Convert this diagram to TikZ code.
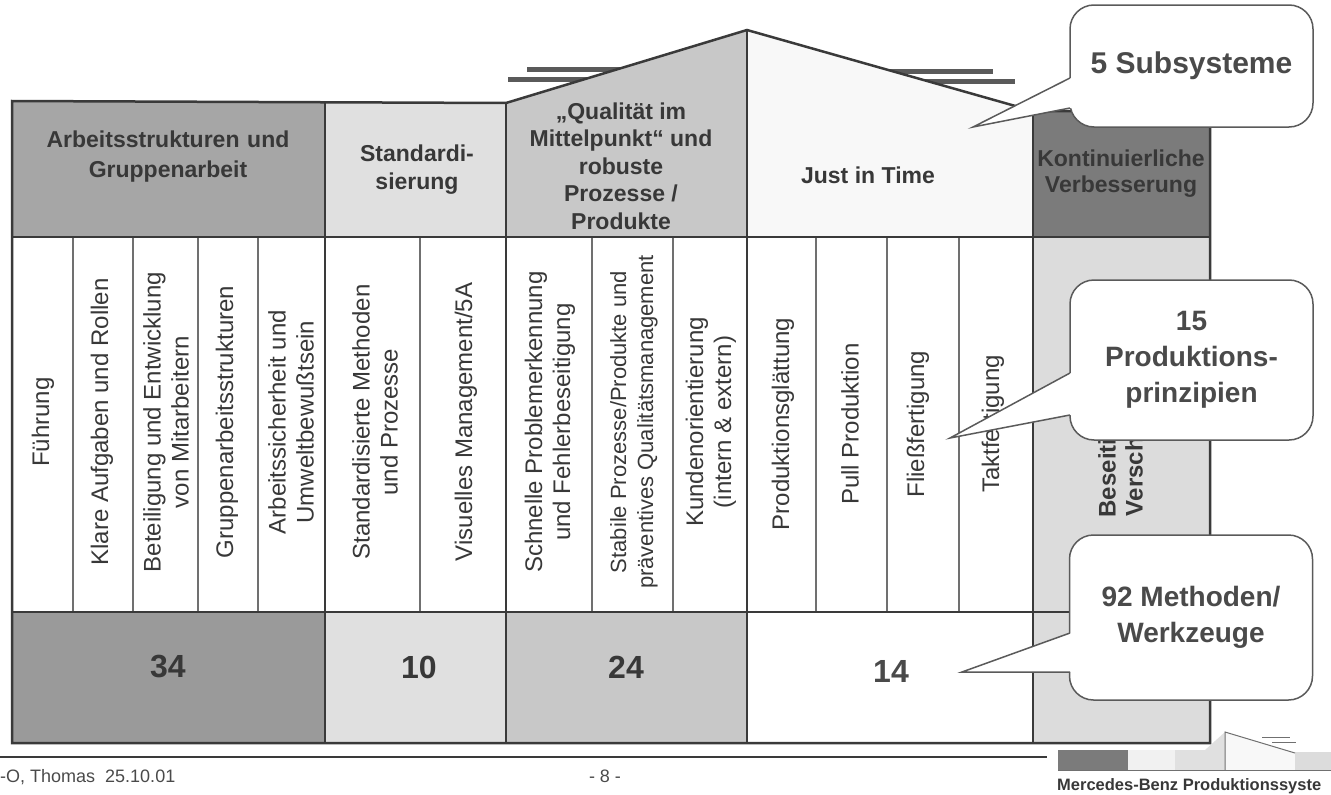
\documentclass[tikz,border=0pt]{standalone}
\usepackage{fontspec}
\setmainfont{Liberation Sans}
\usetikzlibrary{calc}

\definecolor{hdrOne}{HTML}{A6A6A6}
\definecolor{botOne}{HTML}{9A9A9A}
\definecolor{lightFill}{HTML}{E0E0E0}
\definecolor{midFill}{HTML}{C8C8C8}
\definecolor{jitFill}{HTML}{F8F8F8}
\definecolor{kvpFill}{HTML}{7B7B7B}
\definecolor{colFive}{HTML}{DCDCDC}
\definecolor{lineGray}{HTML}{3A3A3A}
\definecolor{divGray}{HTML}{707070}
\definecolor{textGray}{HTML}{383838}
\definecolor{bubbleLine}{HTML}{5A5A5A}
\definecolor{bubbleText}{HTML}{4A4A4A}

\begin{document}
\begin{tikzpicture}[x=1pt, y=-1pt,
    headStyle/.style={align=center, text=textGray, font=\bfseries\fontsize{23}{28}\selectfont},
    pillarStyle/.style={rotate=90, align=center, text=textGray, font=\fontsize{24}{28}\selectfont},
    countStyle/.style={text=textGray, font=\bfseries\fontsize{32}{36}\selectfont},
    bubbleStyle/.style={draw=bubbleLine, fill=white, line width=1.5pt, rounded corners=24pt,
        minimum width=243pt, align=center, inner sep=0pt, text=bubbleText,
        font=\bfseries\fontsize{28}{36}\selectfont},
    tailStyle/.style={draw=bubbleLine, line width=1.5pt},
    thickLine/.style={draw=lineGray, line width=2.5pt},
    thinLine/.style={draw=divGray, line width=1.2pt},
    eaveStyle/.style={draw=bubbleLine, line width=5pt},
    footStyle/.style={text=bubbleText, font=\fontsize{18}{20}\selectfont}]
\useasboundingbox (0,0) rectangle (1331,795);

% eaves behind the roof
\draw[eaveStyle] (527,69) -- (640,69);
\draw[eaveStyle] (508,79) -- (600,79);
\draw[eaveStyle] (875,71) -- (993,71);
\draw[eaveStyle] (905,81) -- (1015,81);

% header row
\fill[hdrOne] (12,101) rectangle (325,237);
\fill[lightFill] (325,102) rectangle (506,237);
\fill[midFill] (506,237) -- (506,103) -- (747,30) -- (747,237) -- cycle;
\fill[jitFill] (747,237) -- (747,30) -- (1033,111) -- (1033,237) -- cycle;
\fill[kvpFill] (1033,111) rectangle (1210,237);

% pillars and base row
\fill[white] (12,237) rectangle (1033,612);
\fill[colFive] (1033,237) rectangle (1210,743);
\fill[botOne] (12,612) rectangle (325,743);
\fill[lightFill] (325,612) rectangle (506,743);
\fill[midFill] (506,612) rectangle (747,743);
\fill[white] (747,612) rectangle (1033,743);

\foreach \xd in {73,133,198,258,420,592,673,816,887,959}
    \draw[thinLine] (\xd,237) -- (\xd,612);

% frame
\draw[thickLine] (12,743) -- (12,101) -- (506,103) -- (747,30) -- (1033,111)
    -- (1210,111) -- (1210,743) -- cycle;
\foreach \xg in {325,506}
    \draw[thickLine] (\xg,102) -- (\xg,743);
\draw[thickLine] (747,30) -- (747,743);
\draw[thickLine] (1033,111) -- (1033,743);
\draw[thickLine] (12,237) -- (1210,237);
\draw[thickLine] (12,612) -- (1210,612);

% subsystems
\node[headStyle, text width=300pt, font=\bfseries\fontsize{23}{30}\selectfont] (hArbeit) at (168,157) {Arbeitsstrukturen und\\Gruppenarbeit};
\node[headStyle] (hStandard) at (417,170) {Standardi-\\sierung};
\node[headStyle, font=\bfseries\fontsize{23}{27.5}\selectfont] (hQuali) at (621,166) {„Qualität im\\Mittelpunkt“ und\\robuste\\Prozesse /\\Produkte};
\node[headStyle] (hJit) at (868,175) {Just in Time};
\node[headStyle, font=\bfseries\fontsize{23}{26}\selectfont] (hKvp) at (1121,174) {Kontinuierliche\\Verbesserung};

% principles
\node[pillarStyle] (pFuehrung) at (43,422) {Führung};
\node[pillarStyle] (pRollen) at (102,422) {Klare Aufgaben und Rollen};
\node[pillarStyle] (pBeteil) at (166,422) {Beteiligung und Entwicklung\\von Mitarbeitern};
\node[pillarStyle] (pGruppe) at (227,422) {Gruppenarbeitsstrukturen};
\node[pillarStyle] (pSicher) at (291,422) {Arbeitssicherheit und\\Umweltbewußtsein};
\node[pillarStyle] (pMethod) at (375,422) {Standardisierte Methoden\\und Prozesse};
\node[pillarStyle] (pVisual) at (466,422) {Visuelles Management/5A};
\node[pillarStyle] (pProblem) at (550,422) {Schnelle Problemerkennung\\und Fehlerbeseitigung};
\node[pillarStyle, font=\fontsize{22}{27}\selectfont] (pStabil) at (634,422) {Stabile Prozesse/Produkte und\\präventives Qualitätsmanagement};
\node[pillarStyle] (pKunde) at (711,422) {Kundenorientierung\\(intern \& extern)};
\node[pillarStyle] (pGlatt) at (783,424) {Produktionsglättung};
\node[pillarStyle] (pPull) at (850,424) {Pull Produktion};
\node[pillarStyle] (pFluss) at (918,424) {Fließfertigung};
\node[pillarStyle] (pTakt) at (993,424) {Taktfertigung};
\node[pillarStyle, font=\bfseries\fontsize{24}{27}\selectfont] (pVerschw) at (1123,424) {Beseitigung von\\Verschwendung};

% methods per subsystem
\node[countStyle] (nArbeit) at (168,667) {34};
\node[countStyle] (nStandard) at (419,667) {10};
\node[countStyle] (nQuali) at (626,667) {24};
\node[countStyle, text=bubbleText] (nJit) at (891,671) {14};

% callouts
\node[bubbleStyle, minimum height=122pt, font=\bfseries\fontsize{30}{36}\selectfont] (subsys) at (1191.5,66) {5 Subsysteme};
\coordinate (subsysTip) at (973,127);
\coordinate (subsysUp) at (1070,78);
\coordinate (subsysLow) at (1070,108);
\fill[white] (subsysUp) -- (subsysTip) -- (subsysLow) -- ($(subsysLow)+(3,0)$) -- ($(subsysUp)+(3,0)$) -- cycle;
\draw[tailStyle] (subsysUp) -- (subsysTip) -- (subsysLow);

\node[bubbleStyle, minimum height=160pt] (prinz) at (1191.5,360) {15\\Produktions-\\prinzipien};
\coordinate (prinzTip) at (950,438);
\coordinate (prinzUp) at (1070,373);
\coordinate (prinzLow) at (1070,415);
\fill[white] (prinzUp) -- (prinzTip) -- (prinzLow) -- ($(prinzLow)+(3,0)$) -- ($(prinzUp)+(3,0)$) -- cycle;
\draw[tailStyle] (prinzUp) -- (prinzTip) -- (prinzLow);

\node[bubbleStyle, minimum height=165pt] (werkz) at (1191,617.5) {92 Methoden/\\Werkzeuge};
\coordinate (werkzTip) at (962,672);
\coordinate (werkzUp) at (1070,633);
\coordinate (werkzLow) at (1070,672);
\fill[white] (werkzUp) -- (werkzTip) -- (werkzLow) -- ($(werkzLow)+(3,0)$) -- ($(werkzUp)+(3,0)$) -- cycle;
\draw[tailStyle] (werkzUp) -- (werkzTip) -- (werkzLow);

% footer
\draw[draw=lineGray, line width=2pt] (0,757) -- (1047,757);
\node[footStyle, anchor=base west, inner sep=0pt] (fAuthor) at (0,782) {-O, Thomas\ \ 25.10.01};
\node[footStyle, anchor=base, inner sep=0pt] (fPage) at (605,782) {- 8 -};

% small house logo
\fill[kvpFill] (1058,750) rectangle (1128,770);
\fill[jitFill!70!lightFill] (1128,750) rectangle (1175,770);
\fill[lightFill] (1175,750) -- (1205,750) -- (1225,732) -- (1225,770) -- (1175,770) -- cycle;
\fill[jitFill] (1225,732) -- (1295,753) -- (1295,770) -- (1225,770) -- cycle;
\fill[colFive] (1295,752) rectangle (1331,770);
\draw[draw=divGray, line width=1pt] (1225,770) -- (1225,732) -- (1295,753);
\draw[draw=divGray, line width=1pt] (1058,770) -- (1331,770);
\draw[draw=divGray, line width=1pt] (1262,737) -- (1290,737);
\draw[draw=divGray, line width=1pt] (1272,742) -- (1296,742);
\node[anchor=base west, inner sep=0pt, text=textGray, font=\bfseries\fontsize{16.5}{18}\selectfont] (fLogo) at (1057,790) {Mercedes-Benz Produktionssyste};
\end{tikzpicture}
\end{document}
